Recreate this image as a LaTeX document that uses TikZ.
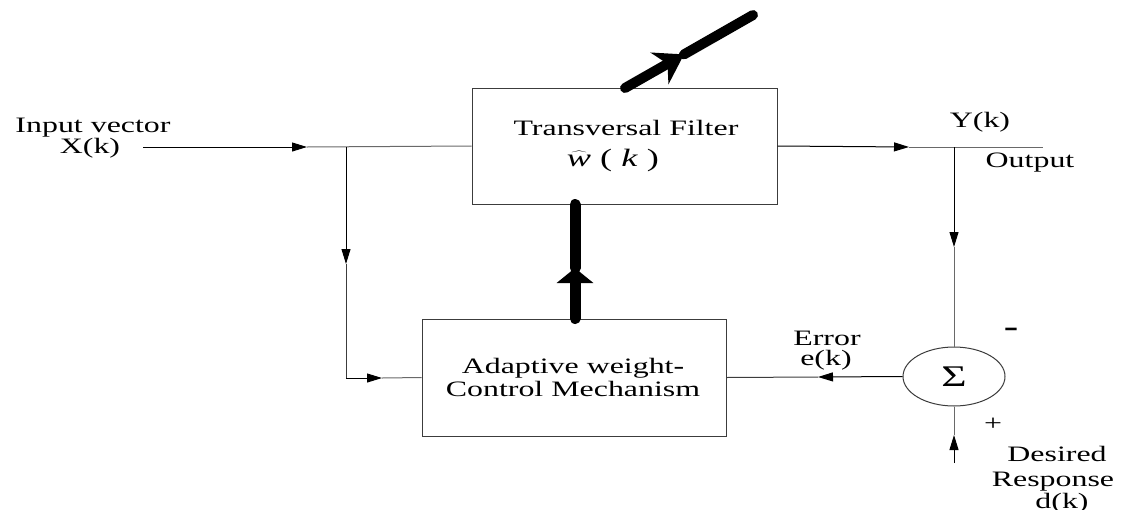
\documentclass[tikz,border=0pt]{standalone}
\usepackage{fontspec}
\setmainfont{Liberation Serif}[FakeStretch=1.45]
\usetikzlibrary{arrows.meta,shapes.geometric}
\definecolor{lgray}{RGB}{105,105,105}
\definecolor{bgray}{RGB}{60,60,60}
\begin{document}
\begin{tikzpicture}[x=1pt,y=-1pt,
  blk/.style={draw=bgray,line width=1pt,rectangle,inner sep=0pt},
  txt/.style={inner sep=0pt,font=\fontsize{22}{24}\selectfont},
  ln/.style={line width=1pt,draw=lgray},
  arr/.style={line width=1pt,draw=black,-{Triangle[length=15pt,width=9pt]}},
  thickarr/.style={line width=11pt,line cap=round,-{Triangle[length=15pt,width=36pt]}},
  thickln/.style={line width=11pt,line cap=round},
  diagarr/.style={line width=10pt,line cap=round,-{Stealth[length=28pt,width=36pt,inset=9pt]}},
  diagln/.style={line width=10pt,line cap=round}]
\useasboundingbox (0,0) rectangle (1127,509);
% blocks
\node[blk,minimum width=305pt,minimum height=116pt] (tf) at (624.5,146) {};
\node[blk,minimum width=304pt,minimum height=117pt] (ac) at (574,377.5) {};
\node[draw=bgray,line width=1pt,ellipse,minimum width=102pt,minimum height=59pt,inner sep=0pt] (sum) at (954,376.5) {\fontsize{30}{30}\selectfont Σ};
% texts
\node[txt,anchor=base] (t1) at (626,135) {Transversal Filter};
\node[txt,anchor=base,font=\fontsize{25}{26}\selectfont] (t2) at (613,166) {$\widehat{\mbox{\itshape w}}$ ( \textit{k} )};
\node[txt,anchor=base] (t3) at (573,373) {Adaptive weight\textbf{-}};
\node[txt,anchor=base] (t4) at (573,396) {Control Mechanism};
\node[txt,anchor=base] (in1) at (93,132) {Input vector};
\node[txt,anchor=base] (in2) at (90,153) {X(k)};
\node[txt,anchor=base] (yk) at (980,127) {Y(k)};
\node[txt,anchor=base] (out) at (1030,167) {Output};
\node[txt,anchor=base] (er1) at (827,345) {Error};
\node[txt,anchor=base] (er2) at (826,365) {e(k)};
\node[txt,anchor=base,font=\fontsize{30}{30}\selectfont\bfseries] (mn) at (1011,336) {-};
\node[txt,anchor=base] (pl) at (993,430) {+};
\node[txt,anchor=base] (ds1) at (1057,461) {Desired};
\node[txt,anchor=base] (ds2) at (1053,486) {Response};
\node[txt,anchor=base] (ds3) at (1062,508) {d(k)};
% coordinates
\coordinate (i0) at (143,147);
\coordinate (i1) at (307,147);
\coordinate (j1) at (346,147);
\coordinate (j1m) at (346,264);
\coordinate (j1b) at (346,378);
\coordinate (j1a) at (382,378);
\coordinate (o1) at (909,147);
\coordinate (j2) at (954,147);
\coordinate (o2) at (1043,147);
\coordinate (j2m) at (954,247);
\coordinate (e1) at (818,377);
\coordinate (d0) at (954,463);
\coordinate (d1) at (954,435);
\coordinate (tm) at (575,268);
\coordinate (g0) at (625,88);
\coordinate (gm) at (684,54.4);
\coordinate (g1) at (753,15);
% input path
\draw[arr] (i0) -- (i1);
\draw[ln] (i1) -- (tf.west);
\draw[arr] (j1) -- (j1m);
\draw[line width=1pt,draw=bgray] (j1m) -- (j1b);
\draw[arr] (j1b) -- (j1a);
\draw[ln] (j1a) -- (ac.west);
% output path
\draw[arr] (tf.east) -- (o1);
\draw[ln] (o1) -- (o2);
\draw[arr] (j2) -- (j2m);
\draw[ln] (j2m) -- (sum.north);
% error
\draw[arr] (sum.west) -- (e1);
\draw[line width=1pt,draw=bgray] (e1) -- (ac.east);
% desired
\draw[arr] (d0) -- (d1);
\draw[ln] (d1) -- (sum.south);
% thick adaptation arrow
\draw[thickarr] (ac.north -| tm) -- (tm);
\draw[thickln] (tm) -- (tm |- tf.south);
% diagonal adjust arrow
\draw[diagarr] (g0) -- (gm);
\draw[diagln] (gm) -- (g1);
\end{tikzpicture}
\end{document}
